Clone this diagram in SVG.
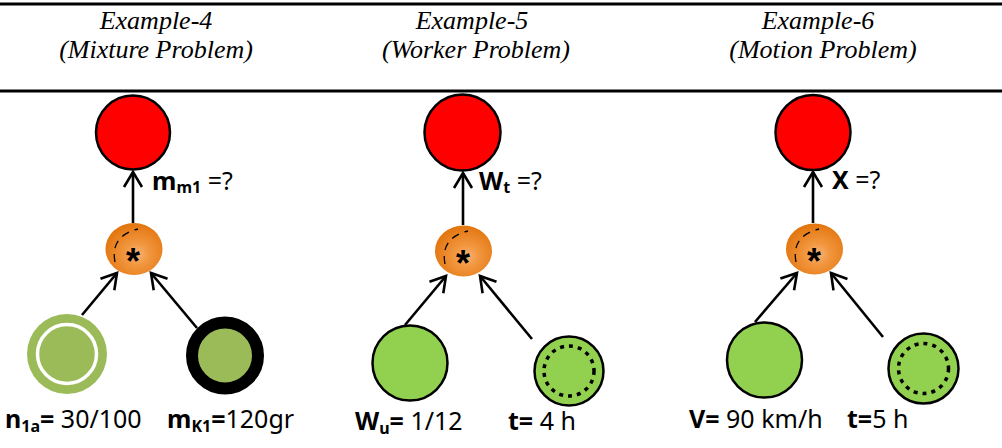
<svg xmlns="http://www.w3.org/2000/svg" width="1002" height="448" viewBox="0 0 1002 448">
<style>
.title{font-family:"Liberation Serif","Times New Roman",serif;font-style:italic;font-size:26px;fill:#000;text-anchor:middle}
.lbl{font-family:"Noto Sans","Open Sans",sans-serif;fill:#000}
.top{font-size:25px}
.bot{font-size:25px}
.b{font-weight:bold}
.sub{font-size:16px;font-weight:bold}
.red{fill:#FF0000;stroke:#000;stroke-width:2.5}
.orange{fill:url(#og)}
.ast{font-family:"Liberation Sans",Arial,sans-serif;font-size:36px;font-weight:bold;text-anchor:middle;fill:#000}
.dash{fill:none;stroke:#000;stroke-width:1.3;stroke-dasharray:8 6}
.conn{stroke:#000;stroke-width:2.6;fill:none;marker-end:url(#arr)}
.g1{fill:#9BBB59}
.g2{fill:#92D050;stroke:#000;stroke-width:2.5}
.dots{fill:none;stroke:#000;stroke-width:3.5;stroke-dasharray:4 5}
.rule{stroke:#000;stroke-width:3}
</style>
<defs>
<radialGradient id="og" cx="0.55" cy="0.6" r="0.6">
<stop offset="0" stop-color="#F7B57A"/>
<stop offset="0.35" stop-color="#F29740"/>
<stop offset="1" stop-color="#E2750E"/>
</radialGradient>
<marker id="arr" markerUnits="userSpaceOnUse" markerWidth="24" markerHeight="24" viewBox="-20 -12 24 24" refX="0" refY="0" orient="auto">
<path d="M-15,-9 L0,0 L-15,9" fill="none" stroke="#000" stroke-width="2.6"/>
</marker>
</defs>

<g id="rules">
<line class="rule" x1="0" y1="4" x2="1002" y2="4"/>
<line class="rule" x1="0" y1="91" x2="1002" y2="91"/>
</g>

<g id="titles">
<text class="title" x="156" y="29">Example-4</text>
<text class="title" x="156" y="58">(Mixture Problem)</text>
<text class="title" x="472" y="29">Example-5</text>
<text class="title" x="476" y="58">(Worker Problem)</text>
<text class="title" x="818" y="29">Example-6</text>
<text class="title" x="823" y="58">(Motion Problem)</text>
</g>

<g id="connectors">
<line class="conn" x1="133" y1="223" x2="133" y2="172"/>
<line class="conn" x1="82" y1="315" x2="117" y2="273"/>
<line class="conn" x1="197" y1="328" x2="151" y2="273"/>
<line class="conn" x1="463" y1="225" x2="463" y2="173"/>
<line class="conn" x1="405" y1="325" x2="446" y2="276"/>
<line class="conn" x1="532" y1="339" x2="480" y2="276"/>
<line class="conn" x1="813" y1="223" x2="813" y2="172"/>
<line class="conn" x1="755" y1="322" x2="797" y2="273"/>
<line class="conn" x1="883" y1="337" x2="831" y2="273"/>
</g>

<g id="ex4-result">
<circle class="red" cx="133" cy="132.5" r="37"/>
<text class="lbl top" x="152" y="190"><tspan class="b">m</tspan><tspan class="sub" dy="3">m1</tspan><tspan dy="-3"> =?</tspan></text>
</g>
<g id="ex4-op">
<ellipse class="orange" cx="134" cy="249" rx="28.5" ry="26"/>
<path class="dash" d="M115,262 Q110,236 138,229"/>
<text class="ast" x="133" y="274">*</text>
</g>
<g id="ex4-n1a">
<circle class="g1" cx="67" cy="354" r="40"/>
<circle class="g1" cx="67" cy="354" r="29.5" stroke="#fff" stroke-width="3.5"/>
<text class="lbl bot" x="5" y="428"><tspan class="b">n</tspan><tspan class="sub" dy="4">1a</tspan><tspan class="b" dy="-4">=</tspan> 30/100</text>
</g>
<g id="ex4-mk1">
<circle class="g1" cx="225" cy="355.5" r="33" stroke="#000" stroke-width="12"/>
<text class="lbl bot" x="167" y="428"><tspan class="b">m</tspan><tspan class="sub" dy="4">K1</tspan><tspan class="b" dy="-4">=</tspan>120gr</text>
</g>

<g id="ex5-result">
<circle class="red" cx="462.5" cy="132.5" r="38"/>
<text class="lbl top" x="479" y="190"><tspan class="b">W</tspan><tspan class="sub" dy="3">t</tspan><tspan dy="-3"> =?</tspan></text>
</g>
<g id="ex5-op">
<ellipse class="orange" cx="463.5" cy="251" rx="28.5" ry="25.5"/>
<path class="dash" d="M445,264 Q440,238 468,231"/>
<text class="ast" x="463" y="276">*</text>
</g>
<g id="ex5-wu">
<circle class="g2" cx="410" cy="363" r="37.5"/>
<text class="lbl bot" x="355" y="430"><tspan class="b">W</tspan><tspan class="sub" dy="4">u</tspan><tspan class="b" dy="-4">=</tspan> 1/12</text>
</g>
<g id="ex5-t">
<circle class="g2" cx="569" cy="371" r="34.5"/>
<circle class="dots" cx="569" cy="371" r="25"/>
<text class="lbl bot" x="508" y="430"><tspan class="b">t=</tspan> 4 h</text>
</g>

<g id="ex6-result">
<circle class="red" cx="813" cy="132.5" r="37.5"/>
<text class="lbl top" x="832" y="189"><tspan class="b">X</tspan> =?</text>
</g>
<g id="ex6-op">
<ellipse class="orange" cx="814.5" cy="249" rx="28.5" ry="25.5"/>
<path class="dash" d="M796,262 Q791,236 819,229"/>
<text class="ast" x="814" y="274">*</text>
</g>
<g id="ex6-v">
<circle class="g2" cx="764.5" cy="360" r="37.5"/>
<text class="lbl bot" x="689" y="428"><tspan class="b">V=</tspan> 90 km/h</text>
</g>
<g id="ex6-t">
<circle class="g2" cx="923.5" cy="368.5" r="35"/>
<circle class="dots" cx="923.5" cy="368.5" r="25"/>
<text class="lbl bot" x="847" y="428"><tspan class="b">t=</tspan>5 h</text>
</g>
</svg>
